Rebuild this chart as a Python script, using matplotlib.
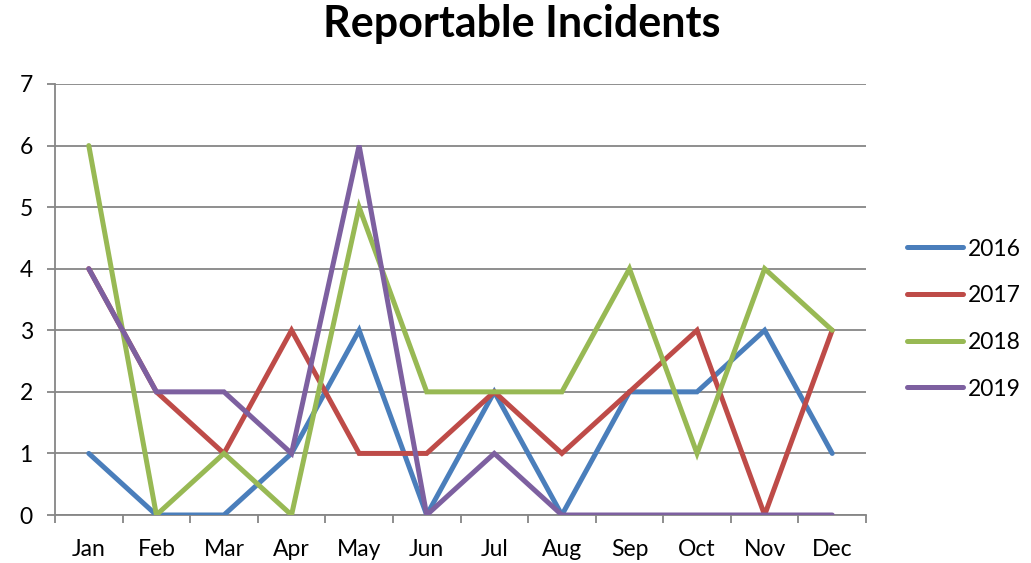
import matplotlib
matplotlib.use("Agg")
import matplotlib.pyplot as plt
import numpy as np

months = ["Jan", "Feb", "Mar", "Apr", "May", "Jun",
          "Jul", "Aug", "Sep", "Oct", "Nov", "Dec"]
incidents_2016 = [1, 0, 0, 1, 3, 0, 2, 0, 2, 2, 3, 1]
incidents_2017 = [4, 2, 1, 3, 1, 1, 2, 1, 2, 3, 0, 3]
incidents_2018 = [6, 0, 1, 0, 5, 2, 2, 2, 4, 1, 4, 3]
incidents_2019 = [4, 2, 2, 1, 6, 0, 1, 0, 0, 0, 0, 0]
series_names = ["2016", "2017", "2018", "2019"]
y_ticks = [0, 1, 2, 3, 4, 5, 6, 7]

colors = ["#4A7EBB", "#BE4B48", "#98B954", "#7D60A0"]
grid_color = "#868686"

plt.rcParams["font.family"] = ["Lato", "DejaVu Sans"]

fig = plt.figure(figsize=(10.31, 5.63), dpi=100)
ax = fig.add_axes([55 / 1031, 48 / 563, (866 - 55) / 1031, (515 - 84) / 563])

x = np.arange(len(months))
for vals, name, c in zip([incidents_2016, incidents_2017, incidents_2018, incidents_2019],
                         series_names, colors):
    ax.plot(x, vals, color=c, lw=3.6, label=name, solid_capstyle="round",
            solid_joinstyle="miter", zorder=3)

ax.set_xlim(-0.5, len(months) - 0.5)
ax.set_ylim(0, 7)
ax.set_yticks(y_ticks)
ax.yaxis.grid(True, color=grid_color, lw=1.3)
ax.set_axisbelow(True)

ax.set_xticks(x)
ax.set_xticklabels(months)
ax.set_xticks(np.arange(-0.5, len(months)), minor=True)
ax.tick_params(axis="x", which="major", length=0, pad=17, labelsize=16.5)
ax.tick_params(axis="x", which="minor", length=6, width=1.3, color=grid_color)
ax.tick_params(axis="y", length=6, width=1.3, color=grid_color, pad=10, labelsize=16.5)

for side in ["top", "right"]:
    ax.spines[side].set_visible(False)
for side in ["left", "bottom"]:
    ax.spines[side].set_color(grid_color)
    ax.spines[side].set_linewidth(1.3)

fig.text(522 / 1031, 1 - 24 / 563, "Reportable Incidents", ha="center", va="center",
         fontsize=31, fontweight="bold")

leg = fig.legend(loc="center left", bbox_to_anchor=(907 / 1031, 1 - 319 / 563),
                 frameon=False, fontsize=16.5, handlelength=2.45, handletextpad=0.2,
                 labelspacing=1.12, borderpad=0, borderaxespad=0)

fig.savefig("out.png", dpi=100)
